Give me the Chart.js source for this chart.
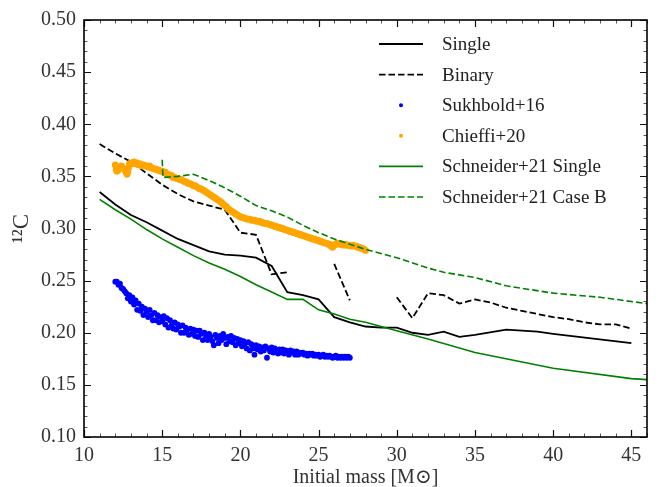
<!DOCTYPE html>
<html><head><meta charset="utf-8">
<script src="https://cdn.jsdelivr.net/npm/chart.js@4/dist/chart.umd.min.js"></script>
<style>html,body{margin:0;padding:0;background:#fff}#wrap{width:662px;height:487px;position:relative}</style>
</head><body><div id="wrap"><canvas id="c" width="662" height="487"></canvas></div>
<script>
// ---------------- data ----------------
const xTicks = [10, 15, 20, 25, 30, 35, 40, 45];
const yTicks = [0.10, 0.15, 0.20, 0.25, 0.30, 0.35, 0.40, 0.45, 0.50];

const singleMass = [11,12,13,14,15,16,17,18,19,20,21,22,23,24,25,26,27,28,29,30,31,32,33,34,35,37,39,40,45];
const singleC    = [0.335,0.323,0.313,0.306,0.298,0.290,0.284,0.278,0.275,0.274,0.272,0.264,0.239,0.236,0.232,0.215,0.210,0.206,0.205,0.205,0.200,0.198,0.201,0.196,0.198,0.203,0.201,0.199,0.190];

const binaryMass = [11,12,13,14,15,16,17,18,19,20,21,22,23,24,26,27,28,30,31,32,33,34,35,36,37,38,39,40,41,42,43,44,45];
const binaryC    = [0.381,0.372,0.364,0.353,0.342,0.333,0.326,0.322,0.318,0.296,0.294,0.256,0.258,null,0.266,0.231,null,0.234,0.214,0.238,0.236,0.228,0.232,0.229,0.224,0.221,0.218,0.215,0.213,0.210,0.208,0.208,0.204];

const schSingleMass = [11,12,13,14,15,16,17,18,19,20,21,22,23,24,25,26,27,28,29,30,32,35,40,45,46];
const schSingleC    = [0.328,0.318,0.309,0.299,0.290,0.282,0.274,0.267,0.261,0.254,0.246,0.239,0.232,0.232,0.222,0.218,0.213,0.210,0.206,0.202,0.194,0.181,0.166,0.156,0.155];

const schCaseBMass = [15,15.05,16,17,18,19,20,21,22,23,24,25,26,27,28,30,32,33,35,37,40,43,46];
const schCaseBC    = [0.366,0.349,0.350,0.352,0.346,0.339,0.331,0.322,0.317,0.311,0.303,0.296,0.290,0.285,0.280,0.272,0.262,0.258,0.253,0.245,0.238,0.234,0.228];

const sukhMass = [12.0,12.1,12.2,12.3,12.4,12.5,12.6,12.7,12.8,12.9,13.0,13.1,13.2,13.3,13.4,13.5,13.6,13.7,13.8,13.9,14.0,14.1,14.2,14.3,14.4,14.5,14.6,14.7,14.8,14.9,15.0,15.1,15.2,15.3,15.4,15.5,15.6,15.7,15.8,15.9,16.0,16.1,16.2,16.3,16.4,16.5,16.6,16.7,16.8,16.9,17.0,17.1,17.2,17.3,17.4,17.5,17.6,17.7,17.8,17.9,18.0,18.1,18.2,18.3,18.4,18.5,18.6,18.7,18.8,18.9,19.0,19.1,19.2,19.3,19.4,19.5,19.6,19.7,19.8,19.9,20.0,20.1,20.2,20.3,20.4,20.5,20.6,20.7,20.8,20.9,21.0,21.1,21.2,21.3,21.4,21.5,21.6,21.7,21.8,21.9,22.0,22.1,22.2,22.3,22.4,22.5,22.6,22.7,22.8,22.9,23.0,23.1,23.2,23.3,23.4,23.5,23.6,23.7,23.8,23.9,24.0,24.1,24.2,24.3,24.4,24.5,24.6,24.7,24.8,24.9,25.0,25.1,25.2,25.3,25.4,25.5,25.6,25.7,25.8,25.9,26.0,26.1,26.2,26.3,26.4,26.5,26.6,26.7,26.8,26.9,27.0];
const sukhC = [0.249,0.249,0.246,0.247,0.243,0.242,0.240,0.238,0.233,0.236,0.230,0.234,0.227,0.231,0.222,0.228,0.221,0.225,0.217,0.223,0.220,0.215,0.222,0.217,0.212,0.219,0.212,0.217,0.210,0.215,0.211,0.216,0.208,0.214,0.205,0.212,0.207,0.204,0.210,0.203,0.208,0.206,0.200,0.207,0.200,0.205,0.203,0.198,0.204,0.199,0.203,0.197,0.202,0.196,0.202,0.199,0.193,0.200,0.197,0.193,0.199,0.196,0.192,0.188,0.198,0.195,0.190,0.197,0.193,0.199,0.195,0.189,0.196,0.192,0.197,0.191,0.195,0.188,0.194,0.190,0.193,0.187,0.192,0.190,0.185,0.191,0.183,0.189,0.185,0.179,0.188,0.184,0.187,0.182,0.186,0.183,0.187,0.176,0.185,0.182,0.186,0.181,0.185,0.183,0.180,0.184,0.181,0.184,0.180,0.183,0.182,0.179,0.183,0.181,0.182,0.179,0.182,0.179,0.181,0.180,0.181,0.179,0.180,0.178,0.180,0.179,0.180,0.178,0.179,0.178,0.179,0.177,0.178,0.179,0.177,0.178,0.177,0.178,0.177,0.176,0.177,0.178,0.176,0.177,0.176,0.177,0.176,0.177,0.176,0.177,0.176];

const chieffiMass = [12.0,12.05,12.1,12.2,12.3,12.4,12.5,12.6,12.7,12.75,12.8,12.85,12.9,13.0,13.1,13.2,13.3,13.4,13.5,13.6,13.7,13.8,13.9,14.0,14.1,14.2,14.3,14.4,14.5,14.6,14.7,14.8,14.9,15.0,15.1,15.2,15.3,15.4,15.5,15.6,15.7,15.8,15.9,16.0,16.1,16.2,16.3,16.4,16.5,16.6,16.7,16.8,16.9,17.0,17.1,17.2,17.3,17.4,17.5,17.6,17.7,17.8,17.9,18.0,18.1,18.2,18.3,18.4,18.5,18.6,18.7,18.8,18.9,19.0,19.1,19.2,19.3,19.4,19.5,19.6,19.7,19.8,19.9,20.0,20.1,20.2,20.3,20.4,20.5,20.6,20.7,20.8,20.9,21.0,21.1,21.2,21.3,21.4,21.5,21.6,21.7,21.8,21.9,22.0,22.1,22.2,22.3,22.4,22.5,22.6,22.7,22.8,22.9,23.0,23.1,23.2,23.3,23.4,23.5,23.6,23.7,23.8,23.9,24.0,24.1,24.2,24.3,24.4,24.5,24.6,24.7,24.8,24.9,25.0,25.1,25.2,25.3,25.4,25.5,25.6,25.7,25.8,25.9,26.0,26.1,26.2,26.3,26.4,26.5,26.6,26.7,26.8,26.9,27.0,27.1,27.2,27.3,27.4,27.5,27.6,27.7,27.8,27.9,28.0];
const chieffiC = [0.361,0.357,0.355,0.356,0.359,0.360,0.358,0.356,0.354,0.352,0.354,0.358,0.362,0.363,0.362,0.364,0.362,0.363,0.361,0.362,0.360,0.361,0.360,0.360,0.359,0.360,0.358,0.358,0.357,0.357,0.356,0.356,0.355,0.355,0.354,0.354,0.352,0.352,0.351,0.351,0.349,0.349,0.348,0.348,0.347,0.347,0.346,0.345,0.345,0.344,0.343,0.343,0.342,0.341,0.341,0.340,0.339,0.338,0.338,0.337,0.336,0.335,0.334,0.333,0.332,0.331,0.330,0.329,0.328,0.327,0.326,0.325,0.323,0.322,0.321,0.319,0.318,0.317,0.316,0.315,0.314,0.313,0.312,0.311,0.311,0.310,0.310,0.309,0.309,0.309,0.308,0.308,0.308,0.307,0.307,0.307,0.306,0.306,0.305,0.305,0.305,0.304,0.304,0.303,0.303,0.302,0.302,0.301,0.301,0.300,0.300,0.299,0.299,0.298,0.298,0.297,0.297,0.296,0.296,0.295,0.295,0.294,0.294,0.293,0.293,0.292,0.292,0.291,0.291,0.290,0.290,0.289,0.289,0.288,0.288,0.287,0.287,0.286,0.286,0.285,0.285,0.283,0.282,0.284,0.285,0.286,0.285,0.285,0.285,0.284,0.285,0.284,0.284,0.284,0.283,0.284,0.283,0.283,0.282,0.282,0.281,0.281,0.280,0.279];

// ---------------- helpers ----------------
const pts = (xs, ys) => xs.map((x, i) => ({x: x, y: ys[i]}));
const FONT = "'Liberation Serif', 'DejaVu Serif', serif";
const DASH = [6.5, 3];

const legendItems = [
  {label: 'Single', kind: 'line', color: '#000000', dash: [], width: 1.8},
  {label: 'Binary', kind: 'line', color: '#000000', dash: DASH, width: 1.8},
  {label: 'Sukhbold+16', kind: 'dot', color: '#0000ff'},
  {label: 'Chieffi+20', kind: 'dot', color: '#ffa500'},
  {label: 'Schneider+21 Single', kind: 'line', color: '#008000', dash: [], width: 1.6},
  {label: 'Schneider+21 Case B', kind: 'line', color: '#008000', dash: DASH, width: 1.6}
];

const framePlugin = {
  id: 'frame',
  afterDraw(chart) {
    const ctx = chart.ctx, a = chart.chartArea;
    const xs = chart.scales.x, ys = chart.scales.y;
    ctx.save();
    ctx.strokeStyle = '#000';
    for (let v = 10; v <= 46; v += 1) {
      const major = xTicks.includes(v);
      const L = major ? 7 : 3.5;
      const px = Math.round(xs.getPixelForValue(v)) + 0.5;
      ctx.lineWidth = major ? 1.2 : 0.9;
      ctx.strokeStyle = major ? '#111' : '#444';
      ctx.beginPath();
      ctx.moveTo(px, a.bottom); ctx.lineTo(px, a.bottom - L);
      ctx.moveTo(px, a.top); ctx.lineTo(px, a.top + L);
      ctx.stroke();
    }
    for (let k = 10; k <= 50; k += 1) {
      const v = k / 100;
      const major = k % 5 === 0;
      const L = major ? 7 : 3.5;
      const py = Math.round(ys.getPixelForValue(v)) + 0.5;
      ctx.lineWidth = major ? 1.2 : 0.9;
      ctx.strokeStyle = major ? '#111' : '#444';
      ctx.beginPath();
      ctx.moveTo(a.left, py); ctx.lineTo(a.left + L, py);
      ctx.moveTo(a.right, py); ctx.lineTo(a.right - L, py);
      ctx.stroke();
    }
    ctx.lineWidth = 1.6;
    ctx.strokeStyle = '#000';
    ctx.strokeRect(a.left, a.top, a.right - a.left, a.bottom - a.top);

    // legend
    ctx.font = '19px ' + FONT;
    ctx.textBaseline = 'middle';
    ctx.textAlign = 'left';
    legendItems.forEach((it, i) => {
      const y = 44 + i * 30.6;
      if (it.kind === 'line') {
        ctx.strokeStyle = it.color;
        ctx.lineWidth = it.width;
        ctx.setLineDash(it.dash);
        ctx.beginPath(); ctx.moveTo(379, y); ctx.lineTo(423, y); ctx.stroke();
        ctx.setLineDash([]);
      } else {
        ctx.fillStyle = it.color;
        ctx.beginPath(); ctx.arc(401, y, 2, 0, Math.PI * 2); ctx.fill();
      }
      ctx.fillStyle = '#222';
      ctx.fillText(it.label, 442, y + 1);
    });
    ctx.restore();
  }
};

new Chart(document.getElementById('c'), {
  type: 'scatter',
  data: {
    datasets: [
      {label: 'Single', data: pts(singleMass, singleC), showLine: true, borderColor: '#000', borderWidth: 1.8, pointRadius: 0, order: 5},
      {label: 'Binary', data: pts(binaryMass, binaryC), showLine: true, borderColor: '#000', borderWidth: 1.8, borderDash: DASH, pointRadius: 0, spanGaps: false, order: 4},
      {label: 'Sukhbold+16', data: pts(sukhMass, sukhC), showLine: false, backgroundColor: '#0000ff', borderWidth: 0, pointRadius: 2.9, order: 3},
      {label: 'Chieffi+20', data: pts(chieffiMass, chieffiC), showLine: false, backgroundColor: '#ffa500', borderWidth: 0, pointRadius: 3.4, order: 2},
      {label: 'Schneider+21 Single', data: pts(schSingleMass, schSingleC), showLine: true, borderColor: '#008000', borderWidth: 1.6, pointRadius: 0, order: 1},
      {label: 'Schneider+21 Case B', data: pts(schCaseBMass, schCaseBC), showLine: true, borderColor: '#008000', borderWidth: 1.6, borderDash: DASH, pointRadius: 0, order: 0}
    ]
  },
  options: {
    responsive: false,
    animation: false,
    devicePixelRatio: 1,
    layout: {padding: {top: 18, right: 15, left: 0, bottom: 0}},
    plugins: {legend: {display: false}, tooltip: {enabled: false}},
    scales: {
      x: {
        type: 'linear', min: 10, max: 46,
        grid: {display: false, drawTicks: false},
        border: {display: false},
        afterBuildTicks: s => { s.ticks = xTicks.map(v => ({value: v})); },
        afterFit: s => { s.height = 50; },
        ticks: {padding: 7, color: '#333', font: {family: FONT, size: 20}, maxRotation: 0, autoSkip: false, callback: v => String(v)},
        title: {display: true, text: 'Initial mass [M\u2299]', color: '#333', font: {family: FONT, size: 20}, padding: {top: 0, bottom: -3}}
      },
      y: {
        type: 'linear', min: 0.10, max: 0.50,
        grid: {display: false, drawTicks: false},
        border: {display: false},
        afterBuildTicks: s => { s.ticks = yTicks.map(v => ({value: v})); },
        afterFit: s => { s.width = 84; },
        ticks: {padding: 8, color: '#333', font: {family: FONT, size: 20}, autoSkip: false, callback: v => Number(v).toFixed(2)},
        title: {display: true, text: '\u00B9\u00B2C', color: '#333', font: {family: FONT, size: 23}, padding: {top: 8, bottom: 0}}
      }
    }
  },
  plugins: [framePlugin]
});
</script></body></html>
